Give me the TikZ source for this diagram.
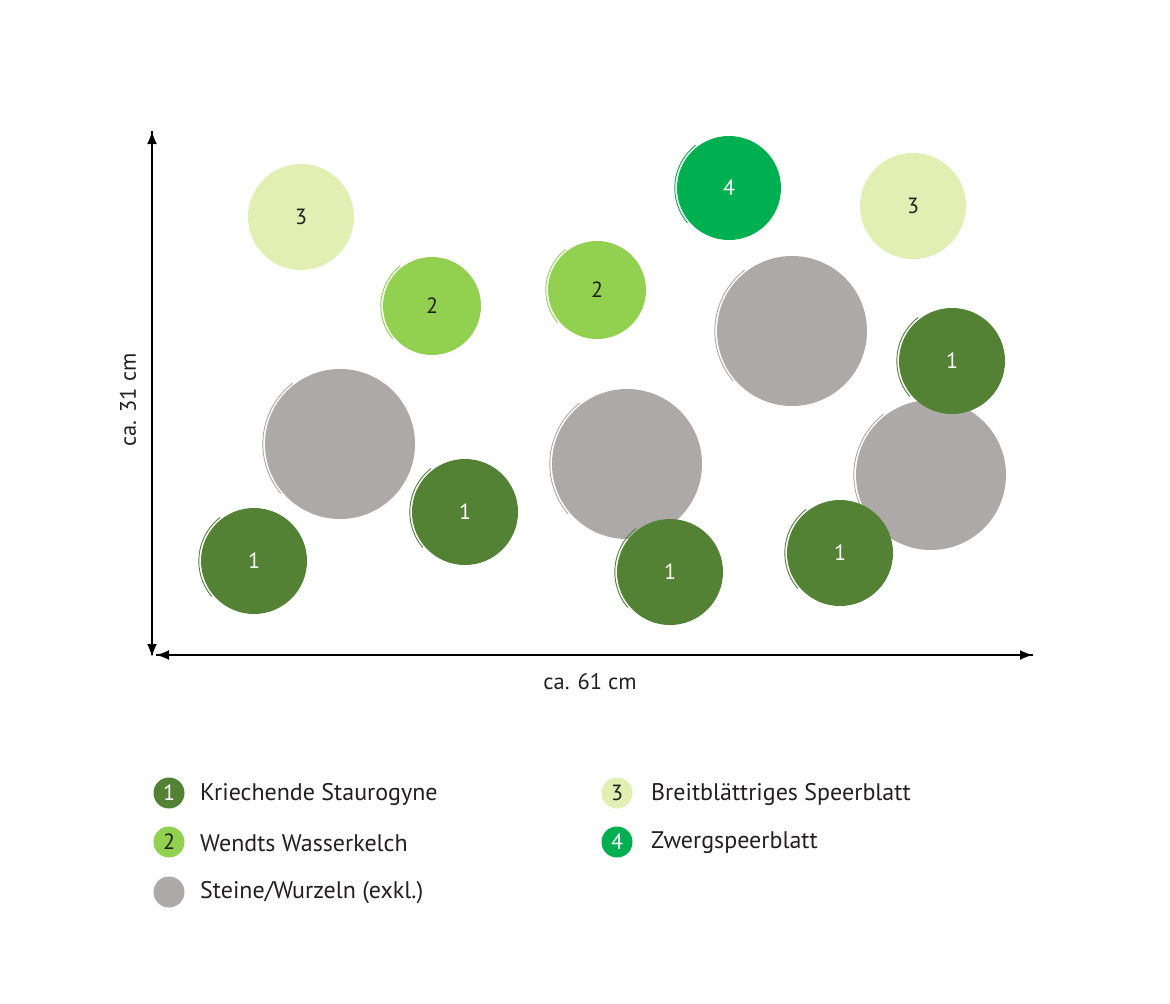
\documentclass[tikz,border=0pt]{standalone}
\usepackage{fontspec}
\setmainfont{PT Sans}
\usetikzlibrary{arrows.meta}
\definecolor{dkgreen}{HTML}{548235}
\definecolor{ltgreen}{HTML}{92D050}
\definecolor{pale}{HTML}{E2EFB2}
\definecolor{brgreen}{HTML}{00B050}
\definecolor{stone}{HTML}{ADA9A8}
\definecolor{ink}{HTML}{231F20}
\tikzset{
  plant/.style={circle, inner sep=0pt, font=\fontsize{22}{22}\selectfont},
  p1/.style={plant, fill=dkgreen, text=white, minimum size=106pt},
  p2/.style={plant, fill=ltgreen, text=ink, minimum size=98pt},
  p3/.style={plant, fill=pale, text=ink, minimum size=106pt},
  p4/.style={plant, fill=brgreen, text=white, minimum size=104pt},
  rock/.style={circle, inner sep=0pt, fill=stone, minimum size=150pt},
  legdot/.style={circle, inner sep=0pt, minimum size=31pt, font=\fontsize{22}{22}\selectfont},
  legtext/.style={anchor=west, inner sep=0pt, text=ink, font=\fontsize{24}{24}\selectfont},
  axis/.style={line width=2pt, draw=black, -{Latex[length=13pt,width=10pt]}},
  axlabel/.style={text=ink, font=\fontsize{22.5}{23}\selectfont, inner sep=0pt}
}
\newcommand{\brush}[3]{% node, radius, colour
  \draw[#3, line width=0.9pt] (#1.center) ++(140:#2+2.2) arc (140:232:#2+2.2);
}
\begin{document}
\begin{tikzpicture}[x=1pt,y=-1pt]
\useasboundingbox[fill=white] (0,0) rectangle (1170,1004);
% rocks
\node[rock] (r1) at (340,444) {};
\node[rock] (r2) at (627,464) {};
\node[rock] (r3) at (792,331) {};
\node[rock] (r4) at (931,475) {};
\brush{r1}{75}{stone}
\brush{r2}{75}{stone}
\brush{r3}{75}{stone}
\brush{r4}{75}{stone}
% plants 3 and 4
\node[p3] (c3a) at (301,217) {3};
\node[p3] (c3b) at (913,206) {3};
\node[p4] (c4) at (729,188) {4};
\brush{c4}{52}{brgreen}
% plants 2
\node[p2] (c2a) at (432,306) {2};
\node[p2] (c2b) at (597,290) {2};
\brush{c2a}{49}{ltgreen}
\brush{c2b}{49}{ltgreen}
% plants 1
\node[p1] (c1a) at (254,561) {1};
\node[p1] (c1b) at (465,512) {1};
\node[p1] (c1c) at (670,572) {1};
\node[p1] (c1d) at (840,553) {1};
\node[p1] (c1e) at (952,361) {1};
\foreach \n in {c1a,c1b,c1c,c1d,c1e} {\brush{\n}{53}{dkgreen}}
% axes
\coordinate (origin) at (152,655);
\coordinate (ytop) at (152,131);
\coordinate (ybot) at (152,657);
\coordinate (xleft) at (156,655);
\coordinate (xright) at (1033,655);
\draw[axis] (origin) -- (ytop);
\draw[axis] (ytop) -- (ybot);
\draw[axis] (xright) -- (xleft);
\draw[axis] (xleft) -- (xright);
\node[axlabel, rotate=90] (ylab) at (128,400) {ca. 31 cm};
\node[axlabel] (xlab) at (590,682) {ca. 61 cm};
% legend
\node[legdot, fill=dkgreen, text=white] (l1) at (169,793) {1};
\node[legtext] (t1) at (200,794) {Kriechende Staurogyne};
\node[legdot, fill=ltgreen, text=ink] (l2) at (169,842) {2};
\node[legtext] (t2) at (200,843) {Wendts Wasserkelch};
\node[legdot, fill=stone] (l5) at (169,892) {};
\node[legtext] (t5) at (200,893) {Steine/Wurzeln (exkl.)};
\node[legdot, fill=pale, text=ink] (l3) at (617,793) {3};
\node[legtext] (t3) at (651,794) {Breitblättriges Speerblatt};
\node[legdot, fill=brgreen, text=white] (l4) at (617,842) {4};
\node[legtext] (t4) at (651,843) {Zwergspeerblatt};
\end{tikzpicture}
\end{document}
